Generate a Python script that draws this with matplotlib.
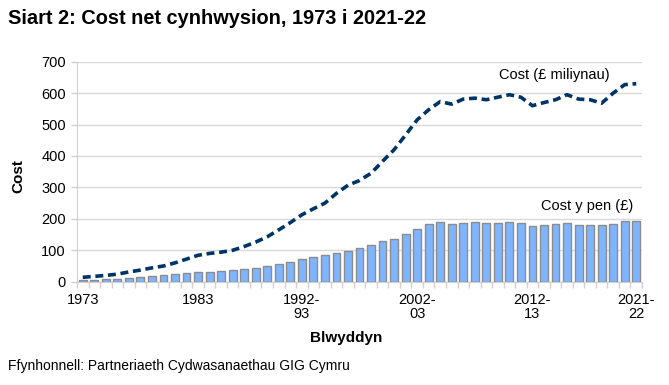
import matplotlib
matplotlib.use('Agg')
import matplotlib.pyplot as plt
import numpy as np

plt.rcParams['font.family'] = ['Liberation Sans', 'DejaVu Sans']

# blynyddoedd: 1973-1991, yna 1992-93 ... 2021-22
years = [str(y) for y in range(1973, 1992)] + \
        [f"{y}-{str(y + 1)[2:]}" for y in range(1992, 2022)]

# cost y pen (£) - bariau
per_head = [5, 6, 8, 9, 12, 15, 18, 21, 24, 28,
            31, 31, 34, 37, 40, 44, 50, 56, 63, 72,
            79, 85, 91, 99, 106, 117, 130, 136, 152, 168,
            184, 189, 184, 186, 189, 186, 186, 189, 186, 178,
            181, 184, 186, 181, 181, 181, 184, 193, 193]

# cost (£ miliynau) - llinell
total = [14, 17, 20, 24, 31, 37, 44, 50, 60, 72,
         84, 90, 94, 100, 112, 126, 143, 165, 188, 213,
         232, 250, 281, 307, 322, 345, 383, 420, 467, 515,
         547, 573, 565, 581, 584, 579, 587, 595, 587, 560,
         570, 579, 595, 581, 579, 568, 600, 627, 630]

label_idx = [0, 10, 19, 29, 39, 48]
label_txt = ['1973', '1983', '1992-\n93', '2002-\n03', '2012-\n13', '2021-\n22']

W, H = 669, 385
fig = plt.figure(figsize=(W / 100, H / 100), dpi=100)
ax = fig.add_axes([77 / W, 1 - 281.7 / H, 565 / W, 220 / H])

x = np.arange(len(years))
ax.bar(x, per_head, width=0.68, color='#7fb4ff', edgecolor='#8c8c8c',
       linewidth=1.0, zorder=3)
ax.plot(x, total, color='#003366', linewidth=2.6, linestyle=(0, (2.2, 1.3)),
        zorder=4)

ax.set_xlim(-0.5, len(years) - 0.5)
ax.set_ylim(0, 700)
ax.set_yticks(range(0, 701, 100))
ax.yaxis.grid(True, color='#d9d9d9', linewidth=1.0, zorder=0)
ax.set_axisbelow(True)

ax.set_xticks(label_idx)
ax.set_xticklabels(label_txt, fontsize=10.5, linespacing=1.0)
ax.set_xticks(np.arange(-0.5, len(years), 1), minor=True)
ax.tick_params(axis='x', which='major', length=0, pad=8)
ax.tick_params(axis='x', which='minor', length=4, color='#d0d0d0', width=1)
ax.tick_params(axis='y', length=4, color='#d0d0d0', width=1, pad=4,
               labelsize=10.5)

for s in ['top', 'right']:
    ax.spines[s].set_visible(False)
ax.spines['left'].set_color('#d0d0d0')
ax.spines['bottom'].set_color('#d0d0d0')

ax.text(45.7, 658, 'Cost (£ miliynau)', ha='right', va='center', fontsize=10.5)
ax.text(47.7, 241, 'Cost y pen (£)', ha='right', va='center', fontsize=10.5)

fig.text(8 / W, 1 - 18 / H, 'Siart 2: Cost net cynhwysion, 1973 i 2021-22',
         fontsize=14.4, fontweight='bold', va='center', ha='left')
fig.text(18 / W, 1 - 176 / H, 'Cost', fontsize=11, fontweight='bold',
         rotation=90, ha='center', va='center')
fig.text(346 / W, 1 - 338 / H, 'Blwyddyn', fontsize=11, fontweight='bold',
         ha='center', va='center')
fig.text(8 / W, 1 - 366 / H, 'Ffynhonnell: Partneriaeth Cydwasanaethau GIG Cymru',
         fontsize=10, ha='left', va='center')

fig.savefig('out.png', dpi=100)
